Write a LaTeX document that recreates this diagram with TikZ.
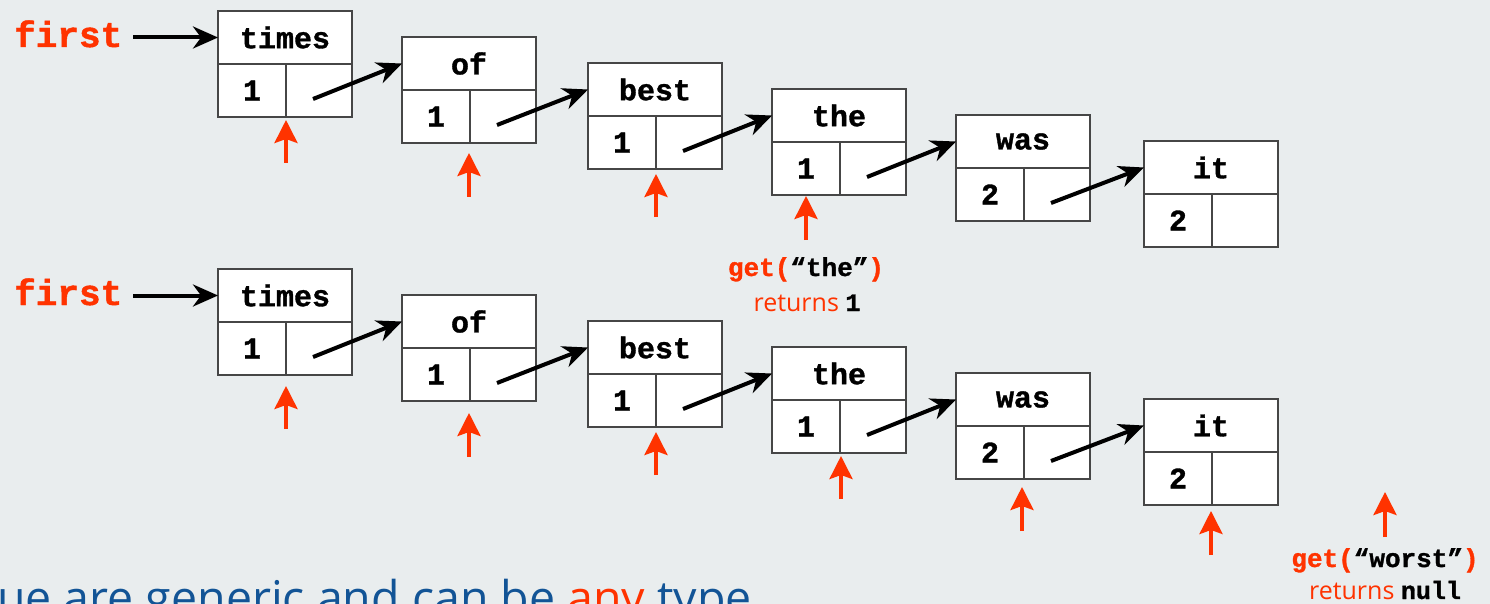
\documentclass[tikz,border=0pt]{standalone}
\usepackage{fontspec}
\setmainfont{Open Sans}
\newfontfamily\monof{Liberation Mono}[BoldFeatures={FakeBold=1.2}]
\usetikzlibrary{arrows.meta}
\definecolor{bg}{RGB}{233,237,238}
\definecolor{hot}{RGB}{255,51,0}
\definecolor{blu}{RGB}{18,84,150}
\definecolor{edge}{RGB}{70,70,70}
\tikzset{
  cell/.style={draw=edge, line width=1.5pt, fill=white, inner sep=0pt, outer sep=0pt,
    minimum height=53pt, font=\monof\bfseries\fontsize{30}{30}\selectfont},
  keycell/.style={cell, minimum width=134pt},
  valcell/.style={cell, minimum width=68pt},
  ptrcell/.style={cell, minimum width=66pt},
  link/.style={line width=4pt, -{Stealth[length=25pt,width=22pt,inset=8pt]}},
  probe/.style={hot, line width=3.6pt, -{Stealth[length=23pt,width=23pt,inset=4pt]}},
  headlbl/.style={hot, anchor=base west, inner sep=0pt, font=\monof\bfseries\fontsize{36}{36}\selectfont},
  getlbl/.style={anchor=base, inner sep=0pt, hot, font=\monof\bfseries\fontsize{26}{26}\selectfont},
  retlbl/.style={anchor=base, inner sep=0pt, hot, font=\fontsize{25}{25}\selectfont},
  notelbl/.style={anchor=base west, inner sep=0pt, blu, font=\fontsize{46.5}{46.5}\selectfont}
}
\newcommand\lnode[5]{%
  \node[keycell] (k#1) at (#2+67,#3+26.5) {#4};
  \node[valcell] (v#1) at (#2+34,#3+79.5) {#5};
  \node[ptrcell] (p#1) at (#2+101,#3+79.5) {};
}
\newcommand\mono[1]{{\monof\bfseries #1}}
\begin{document}
\begin{tikzpicture}[x=1pt,y=-1pt]
  \fill[bg] (0,0) rectangle (1490,604);
  \useasboundingbox (0,0) rectangle (1490,604);

  % ---------- row 1 ----------
  \lnode{a1}{218}{11}{times}{1}
  \lnode{a2}{402}{37}{of}{1}
  \lnode{a3}{588}{63}{best}{1}
  \lnode{a4}{772}{89}{the}{1}
  \lnode{a5}{956}{115}{was}{2}
  \lnode{a6}{1144}{141}{it}{2}

  \node[headlbl] (fa) at (14,47) {first};
  \coordinate (fa0) at (133,37.5);
  \draw[link] (fa0) -- (ka1.west);
  \foreach \i/\j in {1/2,2/3,3/4,4/5,5/6}
    \draw[link] ([shift={(-6,8.5)}]pa\i.center) -- (ka\j.west);

  \foreach \n/\x/\t/\h in {1/286/163/120, 2/469/197/153, 3/656/217/174, 4/806/240/196}{
    \coordinate (ta\n) at (\x,\t);
    \coordinate (ha\n) at (\x,\h);
    \draw[probe] (ta\n) -- (ha\n);
  }
  \node[getlbl] (g1) at (806,276) {get(\textcolor{black}{“the”})};
  \node[retlbl] (r1) at (807,311) {returns \textcolor{black}{\mono{1}}};

  % ---------- row 2 ----------
  \lnode{b1}{218}{269}{times}{1}
  \lnode{b2}{402}{295}{of}{1}
  \lnode{b3}{588}{321}{best}{1}
  \lnode{b4}{772}{347}{the}{1}
  \lnode{b5}{956}{373}{was}{2}
  \lnode{b6}{1144}{399}{it}{2}

  \node[headlbl] (fb) at (14,305) {first};
  \coordinate (fb0) at (133,295.5);
  \draw[link] (fb0) -- (kb1.west);
  \foreach \i/\j in {1/2,2/3,3/4,4/5,5/6}
    \draw[link] ([shift={(-6,8.5)}]pb\i.center) -- (kb\j.west);

  \foreach \n/\x/\t/\h in {1/286/429/386, 2/469/457/413, 3/656/475/432, 4/841/499/456, 5/1022/531/487, 6/1211/555/511, 7/1385/537/492}{
    \coordinate (tb\n) at (\x,\t);
    \coordinate (hb\n) at (\x,\h);
    \draw[probe] (tb\n) -- (hb\n);
  }
  \node[getlbl] (g2) at (1385,567) {get(\textcolor{black}{“worst”})};
  \node[retlbl] (r2) at (1385,599) {returns \textcolor{black}{\mono{null}}};

  % ---------- note ----------
  \node[notelbl] (note) at (-3,614) {ue are generic and can be \textcolor{hot}{any} type};
\end{tikzpicture}
\end{document}
